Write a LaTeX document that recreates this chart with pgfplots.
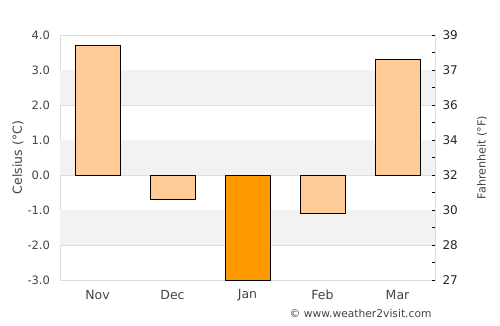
\documentclass[border=0pt]{standalone}
\usepackage{pgfplots}
\pgfplotsset{compat=1.18}
\usepackage{fontspec}
\setmainfont{DejaVu Sans}
\definecolor{txt}{HTML}{444444}
\definecolor{gridc}{HTML}{DDDDDD}
\definecolor{band}{HTML}{F2F2F2}
\definecolor{peach}{HTML}{FFCC99}
\definecolor{orng}{HTML}{FF9900}
\begin{document}
\begin{tikzpicture}[x=1pt,y=1pt]
\begin{axis}[
  width=375pt, height=245pt, scale only axis,
  xmin=-0.5, xmax=4.5, ymin=-3, ymax=4,
  xtick={0,1,2,3,4}, xticklabels={Nov,Dec,Jan,\raisebox{-2.5pt}{Feb},Mar},
  ytick={-3,-2,...,4},
  /pgf/number format/fixed, /pgf/number format/fixed zerofill, /pgf/number format/precision=1,
  /pgf/number format/assume math mode=true,
  ymajorgrids, grid style={gridc, line width=0.8pt},
  axis line style={gridc, line width=0.8pt},
  major tick length=0pt,
  tick label style={text=txt},
  ylabel={Celsius (°C)},
  every axis y label/.style={at={(rel axis cs:0,0.5)}, xshift=-42pt, rotate=90, anchor=center, font=\fontsize{12.5}{14}\selectfont, text=txt},
  xticklabel style={anchor=center, yshift=-15pt, font=\fontsize{12.5}{14}\selectfont},
  yticklabel style={xshift=-6.5pt, font=\fontsize{11.5}{13}\selectfont},
  ybar, bar width=0.6, bar shift=0pt,
  clip=true,
]
\fill[band] (axis cs:-0.5,2) rectangle (axis cs:4.5,3);
\fill[band] (axis cs:-0.5,0) rectangle (axis cs:4.5,1);
\fill[band] (axis cs:-0.5,-2) rectangle (axis cs:4.5,-1);
\addplot[fill=peach, draw=black, line width=0.9pt] coordinates {(0,3.7) (1,-0.7) (3,-1.1) (4,3.3)};
\addplot[fill=orng, draw=black, line width=0.9pt] coordinates {(2,-3.0)};
\end{axis}
\begin{axis}[
  width=375pt, height=245pt, scale only axis,
  xmin=-0.5, xmax=4.5, ymin=-3, ymax=4,
  axis x line=none, axis y line*=right,
  axis line style={gridc, line width=0.8pt},
  ytick={-3,-2.5,...,4},
  yticklabels={27,,28,,30,,32,,34,,36,,37,,39},
  tick align=inside, major tick length=3.5pt,
  tick style={black, line width=0.6pt},
  /pgf/number format/assume math mode=true,
  tick label style={font=\fontsize{12}{14}\selectfont, text=black!85},
  yticklabel style={xshift=4pt},
  ylabel={Fahrenheit (°F)},
  every axis y label/.style={at={(rel axis cs:1,0.5)}, xshift=47pt, rotate=90, anchor=center, font=\fontsize{11.2}{13}\selectfont, text=txt},
]
\end{axis}
\node[font=\fontsize{10.7}{12}\selectfont, text=txt, anchor=east] at (375,-34) {© www.weather2visit.com};
\pgfresetboundingbox
\useasboundingbox (-60,-45) rectangle (440,280);
\end{tikzpicture}
\end{document}
